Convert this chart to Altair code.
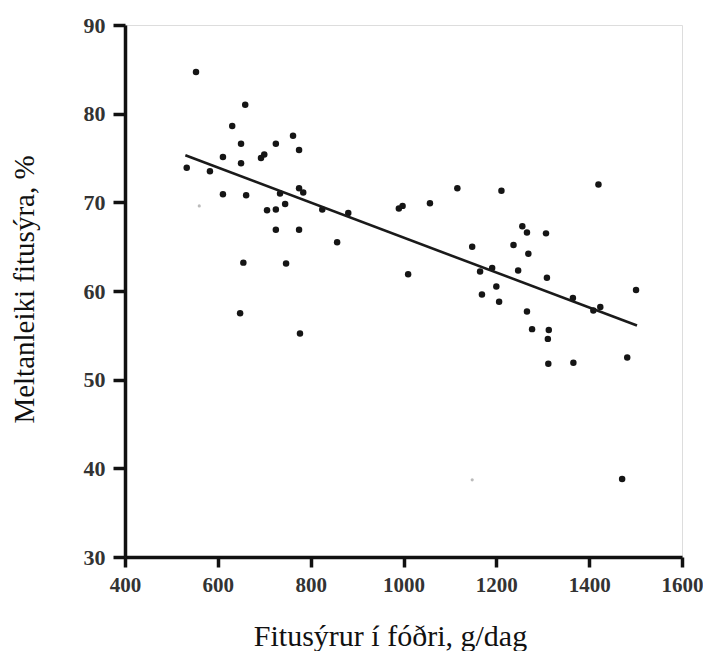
import altair as alt
import pandas as pd

# Scatter points
fitusyrur = [553, 659, 631, 650, 725, 762, 775, 611, 693, 700, 650, 533, 583,
             775, 784, 611, 661, 734, 745, 706, 725, 825, 881, 725, 775, 857,
             655, 747, 648, 777, 990, 998, 1057, 1116, 1211, 1420, 1010, 1148,
             1165, 1191, 1256, 1266, 1307, 1237, 1269, 1247, 1309, 1200, 1169,
             1206, 1266, 1277, 1313, 1311, 1365, 1409, 1424, 1501, 1312, 1366,
             1482, 1471]
meltanleiki = [84.7, 81.0, 78.6, 76.6, 76.6, 77.5, 75.9, 75.1, 75.0, 75.4, 74.4,
               73.9, 73.5, 71.6, 71.1, 70.9, 70.8, 71.0, 69.8, 69.1, 69.2, 69.2,
               68.8, 66.9, 66.9, 65.5, 63.2, 63.1, 57.5, 55.2, 69.3, 69.6, 69.9,
               71.6, 71.3, 72.0, 61.9, 65.0, 62.2, 62.6, 67.3, 66.6, 66.5, 65.2,
               64.2, 62.3, 61.5, 60.5, 59.6, 58.8, 57.7, 55.7, 55.6, 54.6, 59.2,
               57.8, 58.2, 60.1, 51.8, 51.9, 52.5, 38.8]

# Faint (grey) specks
faint_x = [560, 1148]
faint_y = [69.6, 38.7]

# Fitted line endpoints
fit_x = [530, 1503]
fit_y = [75.3, 56.1]

x_ticks = [400, 600, 800, 1000, 1200, 1400, 1600]
y_ticks = [30, 40, 50, 60, 70, 80, 90]

pts = pd.DataFrame({"x": fitusyrur, "y": meltanleiki})
faint = pd.DataFrame({"x": faint_x, "y": faint_y})
fit = pd.DataFrame({"x": fit_x, "y": fit_y})

xscale = alt.Scale(domain=[400, 1600], nice=False, zero=False)
yscale = alt.Scale(domain=[30, 90], nice=False, zero=False)

label_font = "Liberation Serif"
title_font = "Liberation Serif"

xaxis = alt.Axis(
    values=x_ticks, format="d", title="Fitusýrur í fóðri, g/dag", grid=False,
    domainColor="#111", domainWidth=3.5, tickColor="#111", tickWidth=3.5,
    tickSize=10, labelFont=label_font, labelFontSize=21, labelFontWeight="bold",
    labelColor="#333333", labelPadding=7, labelFlush=False,
    titleFont=title_font, titleFontSize=30, titleFontWeight="normal",
    titleColor="#111", titleX=265, titleY=88, titleBaseline="alphabetic",
    titleAnchor="start", titleAlign="center",
)
yaxis = alt.Axis(
    values=y_ticks, format="d", title="Meltanleiki fitusýra, %", grid=False,
    domainColor="#111", domainWidth=3.5, tickColor="#111", tickWidth=3.5,
    tickSize=12, labelFont=label_font, labelFontSize=22, labelFontWeight="bold",
    labelColor="#333333", labelPadding=8, labelFlush=False,
    titleFont=title_font, titleFontSize=29, titleFontWeight="normal",
    titleColor="#111", titleX=-92, titleY=264, titleAngle=-90,
    titleBaseline="alphabetic", titleAlign="center", titleAnchor="start",
)

base_x = alt.X("x:Q", scale=xscale, axis=xaxis)
base_y = alt.Y("y:Q", scale=yscale, axis=yaxis)

faint_layer = alt.Chart(faint).mark_circle(size=10, color="#bbbbbb", opacity=1).encode(
    x=alt.X("x:Q", scale=xscale), y=alt.Y("y:Q", scale=yscale)
)

points = alt.Chart(pts).mark_circle(size=42, color="#151515", opacity=1).encode(
    x=base_x, y=base_y
)

line = alt.Chart(fit).mark_line(color="#1a1a1a", strokeWidth=2.6).encode(
    x=alt.X("x:Q", scale=xscale), y=alt.Y("y:Q", scale=yscale)
)

chart = alt.layer(points, faint_layer, line).properties(
    width=557, height=532,
    autosize=alt.AutoSizeParams(type="none"),
    padding={"left": 117, "top": 17, "right": 21, "bottom": 94},
).configure_view(stroke=None).configure(background="white")

chart.save("out.html", embed_options={"renderer": "svg", "actions": False})
